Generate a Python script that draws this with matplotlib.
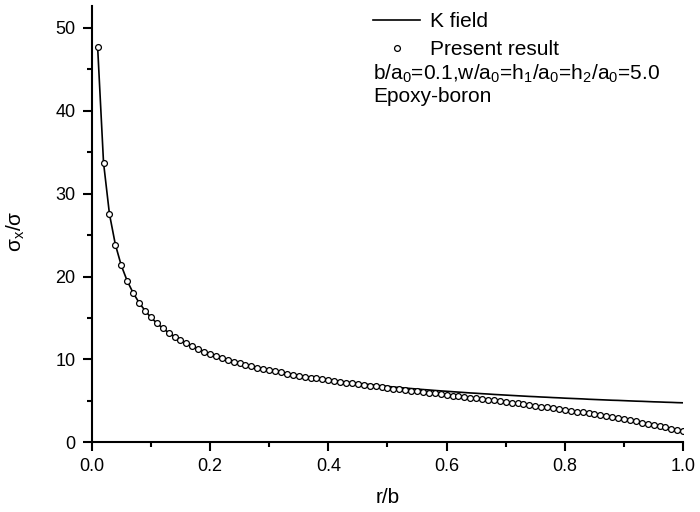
import matplotlib
matplotlib.use("Agg")
import matplotlib.pyplot as plt
from matplotlib.ticker import MultipleLocator, FormatStrFormatter

plt.rcParams["font.family"] = ["Liberation Sans", "DejaVu Sans"]
plt.rcParams["mathtext.fontset"] = "custom"
plt.rcParams["mathtext.rm"] = "Liberation Sans"

# r/b positions of the computed points
r_b = [round(0.01 * i, 2) for i in range(1, 101)]

# K field (solid line), read at the same r/b positions
k_field = [
    47.70, 33.73, 27.54, 23.85, 21.33, 19.47, 18.03, 16.86, 15.90, 15.08,
    14.38, 13.77, 13.23, 12.75, 12.32, 11.93, 11.57, 11.24, 10.94, 10.67,
    10.41, 10.17, 9.95, 9.74, 9.54, 9.35, 9.18, 9.01, 8.86, 8.71,
    8.57, 8.43, 8.30, 8.18, 8.06, 7.95, 7.84, 7.74, 7.64, 7.54,
    7.45, 7.36, 7.27, 7.19, 7.11, 7.03, 6.96, 6.88, 6.81, 6.75,
    6.68, 6.61, 6.55, 6.49, 6.43, 6.37, 6.32, 6.26, 6.21, 6.16,
    6.11, 6.06, 6.01, 5.96, 5.92, 5.87, 5.83, 5.78, 5.74, 5.70,
    5.66, 5.62, 5.58, 5.54, 5.51, 5.47, 5.44, 5.40, 5.37, 5.33,
    5.30, 5.27, 5.24, 5.20, 5.17, 5.14, 5.11, 5.08, 5.06, 5.03,
    5.00, 4.97, 4.95, 4.92, 4.89, 4.87, 4.84, 4.82, 4.79, 4.77,
]

# present result (open circles)
present = [
    47.70, 33.73, 27.54, 23.85, 21.33, 19.47, 18.03, 16.86, 15.90, 15.08,
    14.38, 13.77, 13.23, 12.75, 12.32, 11.93, 11.57, 11.24, 10.94, 10.67,
    10.41, 10.17, 9.95, 9.74, 9.54, 9.35, 9.18, 9.01, 8.86, 8.71,
    8.57, 8.43, 8.30, 8.18, 8.05, 7.93, 7.82, 7.71, 7.61, 7.50,
    7.40, 7.30, 7.20, 7.11, 7.02, 6.93, 6.84, 6.75, 6.66, 6.57,
    6.49, 6.40, 6.32, 6.24, 6.15, 6.07, 5.99, 5.90, 5.82, 5.74,
    5.65, 5.57, 5.48, 5.40, 5.31, 5.22, 5.14, 5.05, 4.96, 4.87,
    4.78, 4.69, 4.60, 4.51, 4.41, 4.32, 4.22, 4.12, 4.03, 3.93,
    3.82, 3.72, 3.61, 3.50, 3.39, 3.28, 3.16, 3.04, 2.92, 2.79,
    2.66, 2.53, 2.39, 2.25, 2.11, 1.96, 1.81, 1.66, 1.50, 1.34,
]

fig = plt.figure(figsize=(7, 5.12), dpi=100)
ax = fig.add_axes([0.131, 0.136, 0.845, 0.852])

ax.plot(r_b, k_field, color="black", lw=1.2, label="K field")
ax.plot(r_b, present, ls="none", marker="o", ms=4.2, mfc="white",
        mec="black", mew=0.9, label="Present result")

ax.set_xlim(0, 1.0)
ax.set_ylim(0, 52.6)
ax.xaxis.set_major_locator(MultipleLocator(0.2))
ax.xaxis.set_minor_locator(MultipleLocator(0.1))
ax.yaxis.set_major_locator(MultipleLocator(10))
ax.yaxis.set_minor_locator(MultipleLocator(5))
ax.xaxis.set_major_formatter(FormatStrFormatter("%.1f"))

for side in ["top", "right"]:
    ax.spines[side].set_visible(False)
for side in ["left", "bottom"]:
    ax.spines[side].set_linewidth(1.5)
ax.tick_params(which="major", direction="out", length=6.5, width=1.5,
               labelsize=13, pad=5)
ax.tick_params(which="minor", direction="out", length=3.6, width=1.5)

ax.set_xlabel("r/b", fontsize=15)
ax.xaxis.set_label_coords(0.5, -0.105)
ax.set_ylabel(r"σ$_\mathregular{x}$/σ", fontsize=15)
ax.yaxis.set_label_coords(-0.110, 0.483)

ax.legend(loc="upper left", bbox_to_anchor=(373 / 700, 1 - 12 / 512),
          bbox_transform=fig.transFigure, frameon=False, fontsize=15,
          handlelength=2.26, handletextpad=0.5, labelspacing=0.45,
          borderpad=0, borderaxespad=0)

fig.text(373 / 700, 1 - 79.5 / 512,
         r"b/a$_\mathregular{0}$=0.1,w/a$_\mathregular{0}$=h$_\mathregular{1}$"
         r"/a$_\mathregular{0}$=h$_\mathregular{2}$/a$_\mathregular{0}$=5.0",
         fontsize=15, va="baseline", ha="left")
fig.text(373 / 700, 1 - 102 / 512, "Epoxy-boron", fontsize=15,
         va="baseline", ha="left")

fig.savefig("out.png", dpi=100)
